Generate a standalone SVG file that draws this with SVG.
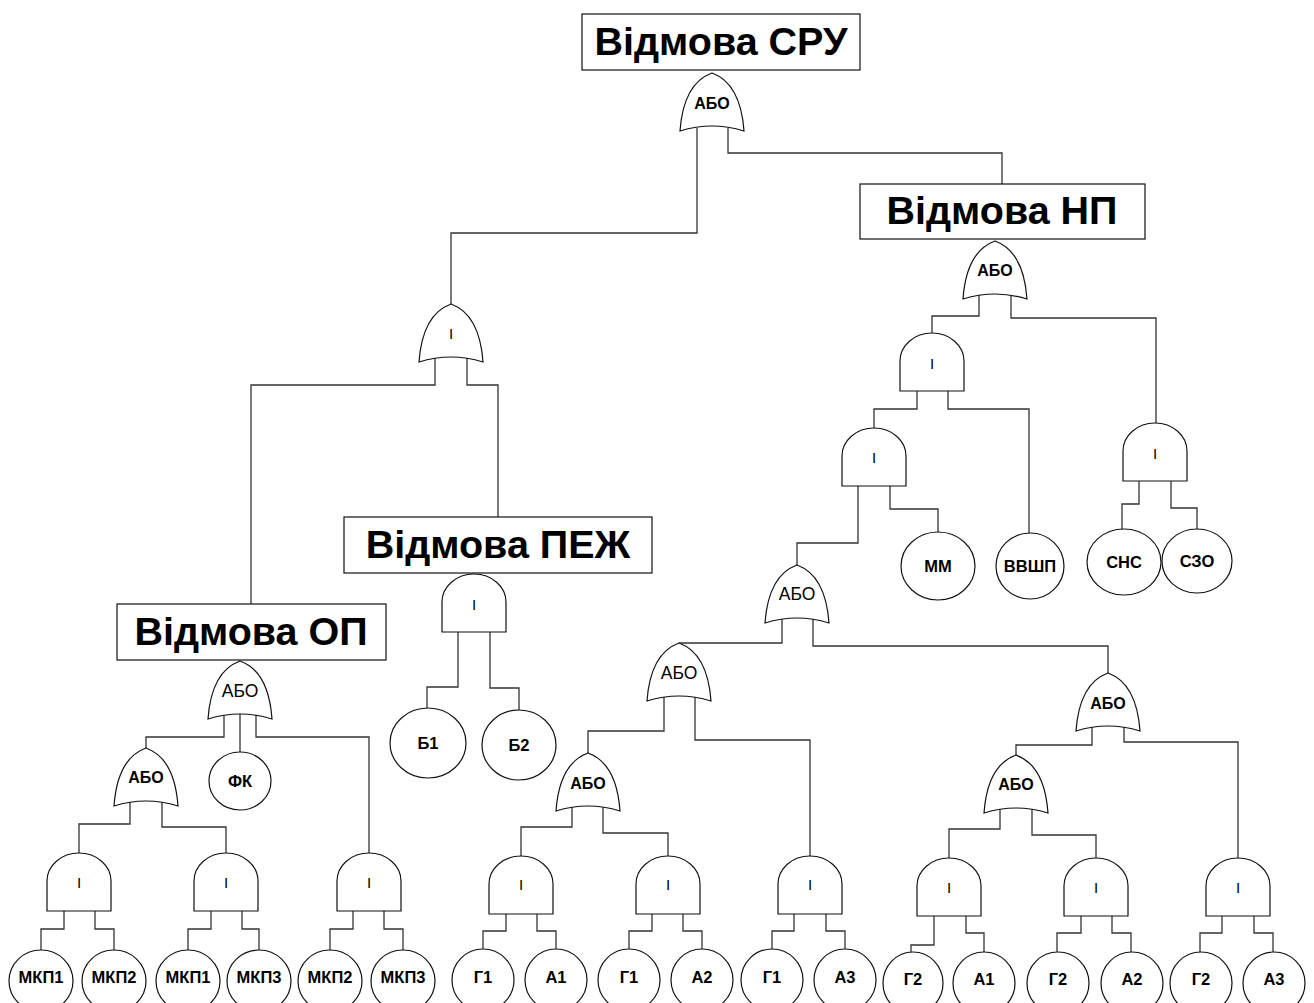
<svg xmlns="http://www.w3.org/2000/svg" xmlns:xlink="http://www.w3.org/1999/xlink" width="1314" height="1003" viewBox="0 0 1314 1003">
  <style>
    .box { fill: #fff; stroke: #111; stroke-width: 1.2; }
    .title { font-family: "Liberation Sans", Arial, sans-serif; font-weight: bold; font-size: 39.5px; text-anchor: middle; fill: #000; }
    .gate { fill: #fff; stroke: #111; stroke-width: 1.2; }
    .gb { font-family: "Liberation Sans", Arial, sans-serif; font-weight: bold; font-size: 16px; text-anchor: middle; fill: #000; }
    .gn { font-family: "Liberation Sans", Arial, sans-serif; font-size: 17.5px; text-anchor: middle; fill: #000; }
    .gi { font-family: "Liberation Sans", Arial, sans-serif; font-size: 15px; text-anchor: middle; fill: #000; }
    .leaf { fill: #fff; stroke: #111; stroke-width: 1.2; }
    .lt { font-family: "Liberation Sans", Arial, sans-serif; font-weight: bold; font-size: 16.5px; text-anchor: middle; fill: #000; }
    .wire { fill: none; stroke: #333; stroke-width: 1.3; }
  </style>
  <defs>
    <!-- OR gate outline, apex at (0,0), height 58 -->
    <path id="or" d="M0,0 C22,8 30,30 32,58 Q0,48 -32,58 C-30,30 -22,8 0,0 Z"/>
    <!-- AND gate outline, top at (0,0), height 58 -->
    <path id="and" d="M-32,58 V28 A32,28 0 0 1 32,28 V58 Z"/>
  </defs>

  <!-- connectors -->
  <g id="connectors" class="wire">
    <polyline points="697,128 697,233 451,233 451,304"/>
    <polyline points="728,128 728,153 1002,153 1002,184"/>
    <polyline points="979,295 979,316 932,316 932,333"/>
    <polyline points="1011,295 1011,318 1156,318 1156,423"/>
    <polyline points="917,391 917,409 874,409 874,428"/>
    <polyline points="948,391 948,409 1029,409 1029,533"/>
    <polyline points="858,486 858,543 797,543 797,565"/>
    <polyline points="890,486 890,509 938,509 938,532"/>
    <polyline points="1139,481 1139,504 1122,504 1122,530"/>
    <polyline points="1171,481 1171,508 1197,508 1197,529"/>
    <polyline points="435,358 435,385 251,385 251,604"/>
    <polyline points="467,358 467,385 498,385 498,517"/>
    <polyline points="458,632 458,687 427,687 427,708"/>
    <polyline points="490,632 490,688 519,688 519,710"/>
    <polyline points="224,715 224,737 146,737 146,748"/>
    <polyline points="240,714 240,752"/>
    <polyline points="256,715 256,737 369,737 369,853"/>
    <polyline points="130,802 130,824 79,824 79,853"/>
    <polyline points="162,802 162,827 226,827 226,853"/>
    <polyline points="782,619 782,643 679,643"/>
    <polyline points="813,619 813,646 1108,646 1108,673"/>
    <polyline points="664,697 664,731 588,731 588,753"/>
    <polyline points="695,697 695,740 810,740 810,856"/>
    <polyline points="572,807 572,827 521,827 521,856"/>
    <polyline points="603,807 603,833 668,833 668,856"/>
    <polyline points="1092,727 1092,745 1016,745 1016,755"/>
    <polyline points="1124,727 1124,742 1238,742 1238,858"/>
    <polyline points="1000,809 1000,829 949,829 949,858"/>
    <polyline points="1032,809 1032,835 1096,835 1096,858"/>
    <!-- bottom AND gates to basic events -->
    <polyline points="64,911 64,929 41,929 41,950"/>
    <polyline points="95,911 95,929 114,929 114,950"/>
    <polyline points="211,911 211,929 188,929 188,950"/>
    <polyline points="242,911 242,929 259,929 259,950"/>
    <polyline points="353,911 353,929 330,929 330,950"/>
    <polyline points="384,911 384,929 403,929 403,950"/>
    <polyline points="506,914 506,931 483,931 483,949"/>
    <polyline points="537,914 537,931 556,931 556,949"/>
    <polyline points="652,914 652,931 629,931 629,949"/>
    <polyline points="683,914 683,931 702,931 702,949"/>
    <polyline points="794,914 794,931 772,931 772,949"/>
    <polyline points="826,914 826,931 845,931 845,949"/>
    <polyline points="934,916 934,945 911,945 911,952"/>
    <polyline points="966,916 966,933 984,933 984,952"/>
    <polyline points="1081,916 1081,933 1057,933 1057,952"/>
    <polyline points="1112,916 1112,933 1131,933 1131,952"/>
    <polyline points="1222,916 1222,933 1200,933 1200,952"/>
    <polyline points="1254,916 1254,933 1273,933 1273,952"/>
  </g>

  <!-- event boxes -->
  <g id="ev-sru"><rect class="box" x="582" y="14" width="278" height="56"/><text class="title" x="721" y="55">Відмова СРУ</text></g>
  <g id="ev-np"><rect class="box" x="860" y="184" width="285" height="55"/><text class="title" x="1002" y="224">Відмова НП</text></g>
  <g id="ev-pezh"><rect class="box" x="344" y="517" width="308" height="56"/><text class="title" x="498" y="558">Відмова ПЕЖ</text></g>
  <g id="ev-op"><rect class="box" x="117" y="604" width="269" height="56"/><text class="title" x="251" y="645">Відмова ОП</text></g>

  <!-- OR gates -->
  <g id="or-sru"><use href="#or" class="gate" x="712" y="73"/><text class="gb" x="712" y="109">АБО</text></g>
  <g id="or-np"><use href="#or" class="gate" x="995" y="241"/><text class="gb" x="995" y="276">АБО</text></g>
  <g id="and-main"><use href="#or" class="gate" x="451" y="304"/><text class="gi" x="451" y="339">І</text></g>
  <g id="or-op"><use href="#or" class="gate" x="240" y="661"/><text class="gn" x="240" y="697">АБО</text></g>
  <g id="or-op2"><use href="#or" class="gate" x="146" y="748"/><text class="gb" x="146" y="783">АБО</text></g>
  <g id="or-a"><use href="#or" class="gate" x="797" y="565"/><text class="gn" x="797" y="600">АБО</text></g>
  <g id="or-b"><use href="#or" class="gate" x="679" y="643"/><text class="gn" x="679" y="679">АБО</text></g>
  <g id="or-c"><use href="#or" class="gate" x="588" y="753"/><text class="gb" x="588" y="789">АБО</text></g>
  <g id="or-d"><use href="#or" class="gate" x="1108" y="673"/><text class="gb" x="1108" y="709">АБО</text></g>
  <g id="or-e"><use href="#or" class="gate" x="1016" y="755"/><text class="gb" x="1016" y="790">АБО</text></g>

  <!-- AND gates -->
  <g id="and-np1"><use href="#and" class="gate" x="932" y="333"/><text class="gi" x="932" y="369">І</text></g>
  <g id="and-np2"><use href="#and" class="gate" x="874" y="428"/><text class="gi" x="874" y="463">І</text></g>
  <g id="and-np3"><use href="#and" class="gate" x="1155" y="423"/><text class="gi" x="1155" y="459">І</text></g>
  <g id="and-pezh"><use href="#and" class="gate" x="474" y="574"/><text class="gi" x="474" y="610">І</text></g>
  <g id="and-1"><use href="#and" class="gate" x="79" y="853"/><text class="gi" x="79" y="888">І</text></g>
  <g id="and-2"><use href="#and" class="gate" x="226" y="853"/><text class="gi" x="226" y="888">І</text></g>
  <g id="and-3"><use href="#and" class="gate" x="369" y="853"/><text class="gi" x="369" y="888">І</text></g>
  <g id="and-4"><use href="#and" class="gate" x="521" y="856"/><text class="gi" x="521" y="890">І</text></g>
  <g id="and-5"><use href="#and" class="gate" x="668" y="856"/><text class="gi" x="668" y="890">І</text></g>
  <g id="and-6"><use href="#and" class="gate" x="810" y="856"/><text class="gi" x="810" y="890">І</text></g>
  <g id="and-7"><use href="#and" class="gate" x="949" y="858"/><text class="gi" x="949" y="893">І</text></g>
  <g id="and-8"><use href="#and" class="gate" x="1096" y="858"/><text class="gi" x="1096" y="893">І</text></g>
  <g id="and-9"><use href="#and" class="gate" x="1238" y="858"/><text class="gi" x="1238" y="893">І</text></g>

  <!-- basic events -->
  <g id="be-mm"><ellipse class="leaf" cx="938" cy="566" rx="37" ry="34"/><text class="lt" x="938" y="572">ММ</text></g>
  <g id="be-vvshp"><ellipse class="leaf" cx="1030" cy="566" rx="34" ry="33"/><text class="lt" x="1030" y="572">ВВШП</text></g>
  <g id="be-snc"><ellipse class="leaf" cx="1124" cy="562" rx="37" ry="33"/><text class="lt" x="1124" y="568">СНС</text></g>
  <g id="be-szo"><ellipse class="leaf" cx="1197" cy="561" rx="35" ry="32"/><text class="lt" x="1197" y="567">СЗО</text></g>
  <g id="be-b1"><ellipse class="leaf" cx="428" cy="743" rx="38" ry="35"/><text class="lt" x="428" y="749">Б1</text></g>
  <g id="be-b2"><ellipse class="leaf" cx="519" cy="745" rx="37" ry="35"/><text class="lt" x="519" y="751">Б2</text></g>
  <g id="be-fk"><ellipse class="leaf" cx="240" cy="781" rx="31" ry="29"/><text class="lt" x="240" y="787">ФК</text></g>

  <g id="be-mkp1a"><ellipse class="leaf" cx="41" cy="981" rx="32" ry="31"/><text class="lt" x="41" y="983">МКП1</text></g>
  <g id="be-mkp2a"><ellipse class="leaf" cx="114" cy="981" rx="32" ry="31"/><text class="lt" x="114" y="983">МКП2</text></g>
  <g id="be-mkp1b"><ellipse class="leaf" cx="188" cy="981" rx="32" ry="31"/><text class="lt" x="188" y="983">МКП1</text></g>
  <g id="be-mkp3a"><ellipse class="leaf" cx="259" cy="981" rx="32" ry="31"/><text class="lt" x="259" y="983">МКП3</text></g>
  <g id="be-mkp2b"><ellipse class="leaf" cx="330" cy="981" rx="32" ry="31"/><text class="lt" x="330" y="983">МКП2</text></g>
  <g id="be-mkp3b"><ellipse class="leaf" cx="403" cy="981" rx="32" ry="31"/><text class="lt" x="403" y="983">МКП3</text></g>
  <g id="be-g1a"><ellipse class="leaf" cx="483" cy="980" rx="31" ry="31"/><text class="lt" x="483" y="983">Г1</text></g>
  <g id="be-a1a"><ellipse class="leaf" cx="556" cy="980" rx="31" ry="31"/><text class="lt" x="556" y="983">А1</text></g>
  <g id="be-g1b"><ellipse class="leaf" cx="629" cy="980" rx="31" ry="31"/><text class="lt" x="629" y="983">Г1</text></g>
  <g id="be-a2a"><ellipse class="leaf" cx="702" cy="980" rx="31" ry="31"/><text class="lt" x="702" y="983">А2</text></g>
  <g id="be-g1c"><ellipse class="leaf" cx="772" cy="980" rx="31" ry="31"/><text class="lt" x="772" y="983">Г1</text></g>
  <g id="be-a3a"><ellipse class="leaf" cx="845" cy="980" rx="31" ry="31"/><text class="lt" x="845" y="983">А3</text></g>
  <g id="be-g2a"><ellipse class="leaf" cx="913" cy="983" rx="30" ry="31"/><text class="lt" x="913" y="985">Г2</text></g>
  <g id="be-a1b"><ellipse class="leaf" cx="984" cy="983" rx="31" ry="31"/><text class="lt" x="984" y="985">А1</text></g>
  <g id="be-g2b"><ellipse class="leaf" cx="1058" cy="983" rx="31" ry="31"/><text class="lt" x="1058" y="985">Г2</text></g>
  <g id="be-a2b"><ellipse class="leaf" cx="1132" cy="983" rx="31" ry="31"/><text class="lt" x="1132" y="985">А2</text></g>
  <g id="be-g2c"><ellipse class="leaf" cx="1201" cy="983" rx="31" ry="31"/><text class="lt" x="1201" y="985">Г2</text></g>
  <g id="be-a3b"><ellipse class="leaf" cx="1274" cy="983" rx="31" ry="31"/><text class="lt" x="1274" y="985">А3</text></g>
</svg>
